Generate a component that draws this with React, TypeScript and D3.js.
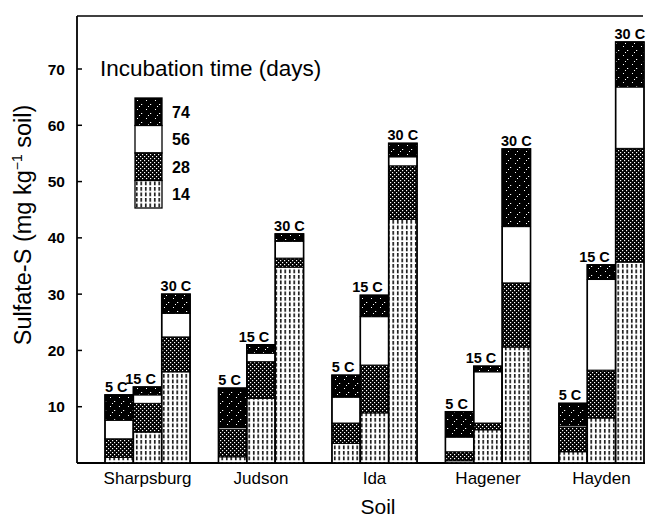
import React from "react";
import * as d3 from "d3";

const soils = ["Sharpsburg", "Judson", "Ida", "Hagener", "Hayden"];
const temps = ["5 C", "15 C", "30 C"];
const days = ["14", "28", "56", "74"];
// Cumulative sulfate-S (mg kg-1 soil) at each incubation time, [soil][temp]
const day14 = [[1.0, 5.5, 16.2], [1.1, 11.5, 34.8], [3.5, 8.9, 43.3], [0.4, 5.9, 20.6], [2.0, 8.0, 35.7]];
const day28 = [[4.3, 10.6, 22.4], [6.0, 18.0, 36.4], [7.1, 17.4, 52.8], [2.0, 7.1, 32.0], [6.4, 16.5, 55.9]];
const day56 = [[7.6, 12.1, 26.6], [6.3, 19.5, 39.4], [11.7, 26.0, 54.4], [4.6, 16.2, 42.0], [6.7, 32.6, 66.8]];
const day74 = [[12.1, 13.5, 30.0], [13.3, 21.0, 40.7], [15.6, 29.8, 56.8], [9.1, 17.2, 55.8], [10.6, 35.2, 74.8]];
const yTicks = [10, 20, 30, 40, 50, 60, 70];

const W = 646;
const H = 517;
const left = 77;
const right = 645;
const top = 16;
const bottom = 463;
const font = "'Liberation Sans', Arial, Helvetica, sans-serif";
const patIds = ["p14", "p28", "p56", "p74"];
const labelDx = [-3, -7, 0];

export default function App() {
  const y = d3.scaleLinear().domain([0, 70]).range([bottom, 69]);
  const x = d3.scaleBand<string>().domain(soils).range([105, 644]).paddingInner(0.25).paddingOuter(0);
  const xt = d3.scaleBand<string>().domain(temps).range([0, x.bandwidth()]).padding(0);
  const series = [day14, day28, day56, day74];

  return (
    <svg width={W} height={H} style={{ position: "fixed", left: 0, top: 0, background: "#fff" }} fontFamily={font}>
      <defs>
        <pattern id="p14" width={4.5} height={5.5} patternUnits="userSpaceOnUse">
          <rect width={4.5} height={5.5} fill="#fff" />
          <rect x={1} y={0} width={1.5} height={3.8} fill="#000" />
        </pattern>
        <pattern id="p28" width={4} height={4} patternUnits="userSpaceOnUse">
          <rect width={4} height={4} fill="#000" />
          <rect x={0} y={0} width={1.2} height={1.2} fill="#fff" />
          <rect x={2} y={2} width={1.2} height={1.2} fill="#fff" />
        </pattern>
        <pattern id="p56" width={4} height={4} patternUnits="userSpaceOnUse">
          <rect width={4} height={4} fill="#fff" />
        </pattern>
        <pattern id="p74" width={9} height={9} patternUnits="userSpaceOnUse">
          <rect width={9} height={9} fill="#000" />
          <rect x={2} y={1} width={1} height={1} fill="#fff" />
          <rect x={6} y={5} width={1.2} height={1} fill="#fff" />
          <rect x={4} y={7} width={1} height={1} fill="#fff" />
        </pattern>
      </defs>

      {/* frame */}
      <line x1={left} x2={643} y1={top} y2={top} stroke="#000" strokeWidth={1.5} />
      <line x1={left} x2={left} y1={top} y2={bottom} stroke="#000" strokeWidth={1.8} />
      <line x1={left} x2={right} y1={bottom} y2={bottom} stroke="#000" strokeWidth={1.8} />

      {/* y ticks */}
      {yTicks.map((t) => (
        <g key={t}>
          <line x1={left} x2={left + 5} y1={y(t)} y2={y(t)} stroke="#000" strokeWidth={1.5} />
          <text x={left - 12} y={y(t)} dy="0.36em" textAnchor="end" fontSize={15.5} fontWeight="bold">
            {t}
          </text>
        </g>
      ))}

      {/* bars */}
      {soils.map((s, si) => (
        <g key={s}>
          {temps.map((t, ti) => {
            const bx = (x(s) as number) + (xt(t) as number);
            const bw = xt.bandwidth();
            const vals = series.map((arr) => arr[si][ti]);
            return (
              <g key={t}>
                {vals.map((v, k) => {
                  const lo = k === 0 ? 0 : vals[k - 1];
                  return (
                    <rect
                      key={k}
                      x={bx}
                      y={y(v)}
                      width={bw}
                      height={Math.max(0, y(lo) - y(v))}
                      fill={`url(#${patIds[k]})`}
                      stroke="#000"
                      strokeWidth={1}
                    />
                  );
                })}
                <rect x={bx} y={y(vals[3])} width={bw} height={y(0) - y(vals[3])} fill="none" stroke="#000" strokeWidth={1.6} />
                <text x={bx + bw / 2 + labelDx[ti]} y={y(vals[3]) - 3} textAnchor="middle" fontSize={14.5} fontWeight="bold">
                  {t}
                </text>
              </g>
            );
          })}
          <text x={(x(s) as number) + x.bandwidth() / 2} y={484} textAnchor="middle" fontSize={17}>
            {s}
          </text>
        </g>
      ))}

      {/* axis titles */}
      <text x={378} y={514} textAnchor="middle" fontSize={21}>
        Soil
      </text>
      <text transform="translate(31,225) rotate(-90)" textAnchor="middle" fontSize={23.5}>
        Sulfate-S (mg kg
        <tspan fontSize={14} dy={-9}>−1</tspan>
        <tspan dy={9}> soil)</tspan>
      </text>

      {/* legend */}
      <text x={100} y={76} fontSize={22.5}>
        Incubation time (days)
      </text>
      {days
        .slice()
        .reverse()
        .map((d, i) => {
          const k = days.length - 1 - i;
          const ly = 98 + i * 27.5;
          return (
            <g key={d}>
              <rect x={135} y={ly} width={27} height={27.5} fill={`url(#${patIds[k]})`} stroke="#000" strokeWidth={1.3} />
              <text x={172} y={ly + 13.75} dy="0.36em" fontSize={16} fontWeight="bold">
                {d}
              </text>
            </g>
          );
        })}
    </svg>
  );
}
